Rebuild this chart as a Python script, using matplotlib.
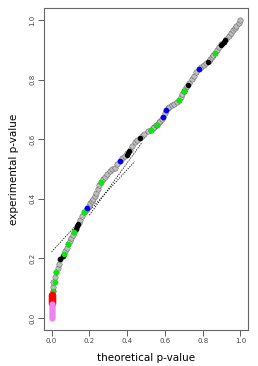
import matplotlib
matplotlib.use("Agg")
from matplotlib import pyplot as plt

# curve of all p-values (theoretical vs experimental)
theo = [0.005, 0.008, 0.010, 0.018, 0.026, 0.032, 0.037, 0.047, 0.058, 0.066,
        0.073, 0.081, 0.089, 0.097, 0.105, 0.112, 0.120, 0.128, 0.136, 0.144,
        0.152, 0.162, 0.173, 0.180, 0.188, 0.196, 0.204, 0.212, 0.220, 0.228,
        0.236, 0.244, 0.251, 0.262, 0.272, 0.283, 0.296, 0.309, 0.322, 0.335,
        0.348, 0.361, 0.374, 0.387, 0.400, 0.414, 0.427, 0.440, 0.453, 0.466,
        0.479, 0.492, 0.508, 0.524, 0.535, 0.545, 0.553, 0.560, 0.568, 0.576,
        0.584, 0.592, 0.600, 0.607, 0.615, 0.623, 0.636, 0.649, 0.662, 0.675,
        0.683, 0.691, 0.699, 0.707, 0.718, 0.728, 0.741, 0.754, 0.767, 0.780,
        0.793, 0.806, 0.819, 0.832, 0.840, 0.848, 0.856, 0.864, 0.875, 0.885,
        0.898, 0.911, 0.924, 0.937, 0.950, 0.963, 0.971, 0.979, 0.990, 1.000]
expt = [0.090, 0.105, 0.120, 0.137, 0.154, 0.168, 0.181, 0.197, 0.207, 0.215,
        0.224, 0.236, 0.247, 0.258, 0.268, 0.278, 0.288, 0.298, 0.308, 0.318,
        0.328, 0.342, 0.355, 0.361, 0.368, 0.377, 0.385, 0.393, 0.401, 0.411,
        0.421, 0.433, 0.445, 0.458, 0.465, 0.472, 0.482, 0.492, 0.499, 0.505,
        0.516, 0.528, 0.537, 0.545, 0.555, 0.565, 0.577, 0.589, 0.597, 0.605,
        0.612, 0.619, 0.626, 0.632, 0.637, 0.642, 0.646, 0.649, 0.656, 0.662,
        0.669, 0.676, 0.688, 0.699, 0.704, 0.709, 0.714, 0.719, 0.726, 0.732,
        0.743, 0.753, 0.761, 0.769, 0.779, 0.789, 0.801, 0.813, 0.825, 0.836,
        0.843, 0.849, 0.856, 0.863, 0.870, 0.876, 0.883, 0.890, 0.900, 0.910,
        0.918, 0.926, 0.936, 0.946, 0.957, 0.967, 0.974, 0.980, 0.990, 1.000]

black_x = [0.047, 0.058, 0.131, 0.136, 0.142, 0.400, 0.405, 0.410, 0.466, 0.700, 0.720, 0.830, 0.895, 0.903, 0.911, 0.918]
black_y = [0.197, 0.207, 0.300, 0.308, 0.316, 0.548, 0.554, 0.560, 0.605, 0.760, 0.782, 0.860, 0.915, 0.920, 0.926, 0.931]

green_x = [0.005, 0.016, 0.026, 0.068, 0.089, 0.120, 0.173, 0.262, 0.524, 0.560, 0.675, 0.700, 0.864]
green_y = [0.090, 0.120, 0.154, 0.214, 0.247, 0.288, 0.355, 0.458, 0.632, 0.649, 0.732, 0.763, 0.890]

blue_x = [0.188, 0.361, 0.592, 0.607, 0.780]
blue_y = [0.368, 0.528, 0.676, 0.699, 0.836]

red_x = [0.0, 0.0, 0.0, 0.0, 0.0]
red_y = [0.052, 0.058, 0.064, 0.070, 0.077]

violet_x = [0.0, 0.0, 0.0, 0.0, 0.0, 0.0, 0.0, 0.0]
violet_y = [0.0, 0.007, 0.014, 0.021, 0.028, 0.035, 0.042, 0.048]

# dotted reference lines
ref1_x = [0.0, 0.44]
ref1_y = [0.222, 0.525]
ref2_x = [0.20, 0.48]
ref2_y = [0.345, 0.59]

fig = plt.figure(figsize=(2.58, 3.66), dpi=100)
ax = fig.add_axes([44 / 258, 1 - 330 / 366, 204 / 258, 322 / 366])

ax.plot(ref1_x, ref1_y, color="black", lw=0.6, ls=(0, (1.5, 1.5)))
ax.plot(ref2_x, ref2_y, color="black", lw=0.6, ls=(0, (1.5, 1.5)))

ax.scatter(theo, expt, s=15, facecolor="#bdbdbd", edgecolor="#333333", linewidth=0.25, zorder=3)
ax.scatter(black_x, black_y, s=8, color="black", zorder=4)
ax.scatter(green_x, green_y, s=9, color="#00ee00", zorder=5)
ax.scatter(blue_x, blue_y, s=9, color="#0000ff", zorder=5)
ax.scatter(red_x, red_y, s=20, color="#ff0000", zorder=5)
ax.scatter(violet_x, violet_y, s=12, color="#ee82ee", zorder=5)

ax.set_xlim(-0.04, 1.04)
ax.set_ylim(-0.04, 1.04)
ticks = [0.0, 0.2, 0.4, 0.6, 0.8, 1.0]
ax.set_xticks(ticks)
ax.set_yticks(ticks)
ax.set_xticklabels(["%.1f" % t for t in ticks])
ax.set_yticklabels(["%.1f" % t for t in ticks], rotation=90, va="center")
ax.tick_params(labelsize=5, colors="#444444", length=4, width=0.6, pad=2)
for s in ax.spines.values():
    s.set_color("#666666")
    s.set_linewidth(0.8)

ax.set_xlabel("theoretical p-value", fontsize=7.5, labelpad=6)
ax.set_ylabel("experimental p-value", fontsize=7.5, labelpad=8)

fig.savefig("out.png", dpi=100)
